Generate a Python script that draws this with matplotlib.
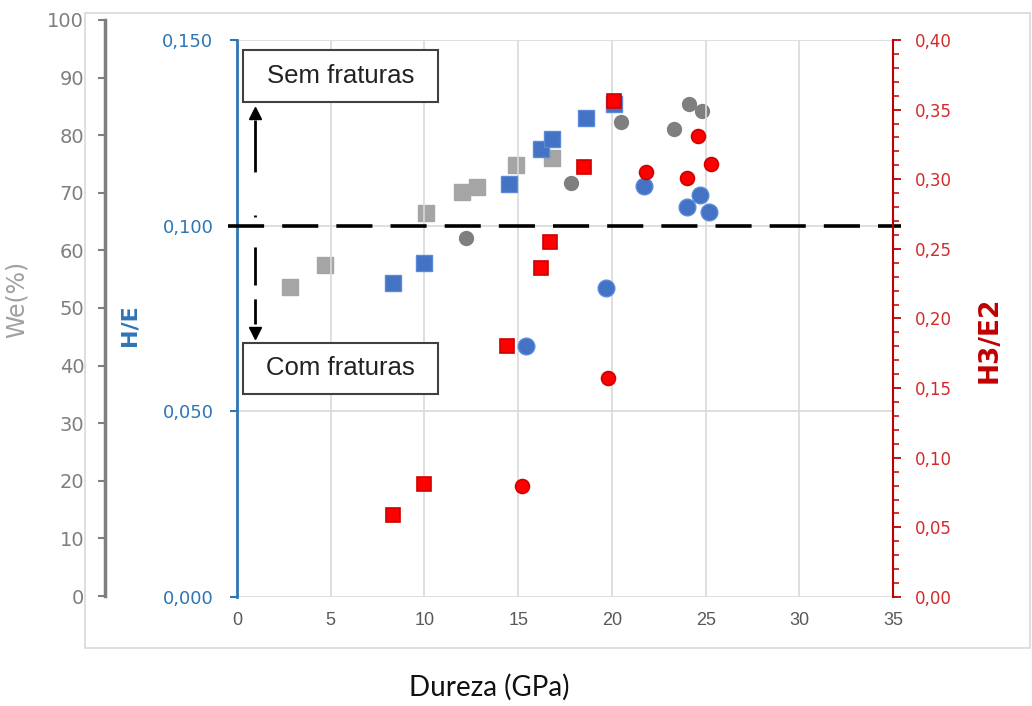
import numpy as np
import matplotlib
matplotlib.use('Agg')
import matplotlib.pyplot as plt
from matplotlib.patches import Rectangle
from matplotlib.ticker import MultipleLocator, FuncFormatter

# Data
# We (%) - gray axis
we_sq_x = [2.8, 4.7, 10.1, 12.0, 12.8, 14.9, 16.8]
we_sq_y = [53.6, 57.5, 66.5, 70.1, 71.0, 74.8, 76.0]
we_ci_x = [12.2, 17.8, 20.5, 23.3, 24.1, 24.8]
we_ci_y = [62.2, 71.7, 82.3, 81.1, 85.4, 84.2]

# H/E - blue axis
he_sq_x = [8.3, 10.0, 14.5, 16.2, 16.8, 18.6, 20.1]
he_sq_y = [0.0846, 0.0899, 0.1112, 0.1206, 0.1233, 0.1290, 0.1328]
he_ci_x = [15.4, 19.7, 21.7, 24.0, 24.7, 25.2]
he_ci_y = [0.0676, 0.0832, 0.1107, 0.1050, 0.1083, 0.1037]

# H3/E2 - red axis
h3_sq_x = [8.3, 10.0, 14.4, 16.2, 16.7, 18.5, 20.1]
h3_sq_y = [0.059, 0.081, 0.180, 0.236, 0.255, 0.309, 0.356]
h3_ci_x = [15.2, 19.8, 21.8, 24.0, 24.6, 25.3]
h3_ci_y = [0.080, 0.157, 0.305, 0.301, 0.331, 0.311]

he_limit = 0.100

gray_sq = '#a5a5a5'
gray_ci = '#7f7f7f'
blue = '#4472c4'
blue_ax = '#2e75b6'
red = '#ff0000'
red_ax = '#c00000'

comma2 = FuncFormatter(lambda v, p: f"{v:.2f}".replace('.', ','))
comma3 = FuncFormatter(lambda v, p: f"{v:.3f}".replace('.', ','))

fig = plt.figure(figsize=(10.32, 7.06), dpi=100)
fig.patch.set_facecolor('white')

# outer light frame
fig.patches.append(Rectangle((0.0824, 0.0822), 0.9156, 0.8994, transform=fig.transFigure,
                             fill=False, edgecolor='#d9d9d9', lw=1.2))

# Main axes (H/E)
ax = fig.add_axes([0.2297, 0.1544, 0.6357, 0.7890])
ax.patch.set_visible(False)
ax.set_xlim(0, 35)
ax.set_ylim(0, 0.150)
ax.xaxis.set_major_locator(MultipleLocator(5))
ax.yaxis.set_major_locator(MultipleLocator(0.05))
ax.yaxis.set_major_formatter(comma3)
ax.grid(True, color='#d9d9d9', lw=1.2, zorder=0)
ax.set_axisbelow(True)
for s in ['top', 'right', 'bottom']:
    ax.spines[s].set_visible(False)
ax.spines['left'].set_color(blue_ax)
ax.spines['left'].set_linewidth(2)
ax.tick_params(axis='y', colors=blue_ax, labelcolor=blue_ax, length=5, width=1.5,
               pad=12, labelsize=13)
ax.tick_params(axis='x', length=0, pad=11, labelsize=13, labelcolor='#595959')
for lab in ax.get_xticklabels():
    lab.set_fontfamily('Liberation Sans')
ax.set_ylabel('H/E', color=blue_ax, fontsize=16, fontweight='bold')
ax.yaxis.set_label_coords(-0.148, 0.488)

# Red axis (H3/E2)
ax_r = ax.twinx()
ax_r.patch.set_visible(False)
ax_r.set_ylim(0, 0.40)
ax_r.yaxis.set_major_locator(MultipleLocator(0.05))
ax_r.yaxis.set_minor_locator(MultipleLocator(0.01))
ax_r.yaxis.set_major_formatter(comma2)
for s in ['top', 'left', 'bottom']:
    ax_r.spines[s].set_visible(False)
ax_r.spines['right'].set_color(red_ax)
ax_r.spines['right'].set_linewidth(1.5)
ax_r.tick_params(axis='y', which='major', colors=red_ax, labelcolor='#d42a2a', length=6,
                 width=1.3, pad=10, labelsize=12)
ax_r.tick_params(axis='y', which='minor', colors=red_ax, length=4, width=1.1)
ax_r.set_ylabel('H3/E2', color=red_ax, fontsize=19, fontweight='bold')
ax_r.yaxis.set_label_coords(1.128, 0.461)

# Gray axis (We %), taller than plot area, offset left
ax_g = fig.add_axes([0.2297, 0.1558, 0.6357, 0.8159])
ax_g.patch.set_visible(False)
ax_g.set_xlim(0, 35)
ax_g.set_ylim(0, 100)
ax_g.yaxis.set_major_locator(MultipleLocator(10))
ax_g.set_xticks([])
for s in ['top', 'right', 'bottom']:
    ax_g.spines[s].set_visible(False)
ax_g.spines['left'].set_position(('axes', -0.2012))
ax_g.spines['left'].set_color(gray_ci)
ax_g.spines['left'].set_linewidth(2.5)
ax_g.tick_params(axis='y', colors=gray_ci, labelcolor='#7f7f7f', length=5, width=1.5,
                 pad=10, labelsize=14)
ax_g.set_ylabel('We(%)', color='#a0a0a0', fontsize=17)
ax_g.yaxis.set_label_coords(-0.318, 0.514)

ax_g.set_zorder(1)
ax.set_zorder(2)
ax_r.set_zorder(3)

# points
ax_g.plot(we_sq_x, we_sq_y, 's', color=gray_sq, ms=11, mec=gray_sq, clip_on=False)
ax_g.plot(we_ci_x, we_ci_y, 'o', color=gray_ci, ms=10, mec=gray_ci, clip_on=False)
ax.plot(he_sq_x, he_sq_y, 's', color=blue, ms=11, mec='#5b8bd8', zorder=3)
ax.plot(he_ci_x, he_ci_y, 'o', color=blue, ms=12, mec='#5b8bd8', zorder=3)
ax_r.plot(h3_sq_x, h3_sq_y, 's', color=red, ms=10, mec='#d00000', mew=1.2, zorder=3)
ax_r.plot(h3_ci_x, h3_ci_y, 'o', color=red, ms=10, mec='#d00000', mew=1.2, zorder=3)

# limit line
ax.plot([-0.5, 35.4], [he_limit, he_limit], color='black', lw=2.6,
        linestyle=(0, (10, 5)), clip_on=False, zorder=4)

# double arrow (dash-dot), drawn top to bottom
arr_x = 0.96
ax.plot([arr_x, arr_x], [0.1285, 0.0735], color='black', lw=2,
        linestyle=(0, (18.7, 15.5, 0.7, 10.8, 13.7, 5, 14.7, 20)), zorder=4)
ax.plot([arr_x], [0.1303], marker='^', color='black', ms=9, zorder=4)
ax.plot([arr_x], [0.0712], marker='v', color='black', ms=9, zorder=4)

# text boxes
for y0, h, txt in [(0.889, 0.0934, 'Sem fraturas'), (0.3645, 0.0916, 'Com fraturas')]:
    ax.add_patch(Rectangle((0.009, y0), 0.297, h, transform=ax.transAxes,
                           facecolor='white', edgecolor='#404040', lw=1.5, zorder=5))
    ax.text(0.009 + 0.297 / 2, y0 + h / 2, txt, transform=ax.transAxes, ha='center',
            va='center', fontsize=18.5, family='Liberation Sans', color='#222222', zorder=6)

fig.text(0.474, 0.026, 'Dureza (GPa)', ha='center', va='center', fontsize=20,
         family='Lato', color='#111111')

fig.savefig('out.png', dpi=100)
